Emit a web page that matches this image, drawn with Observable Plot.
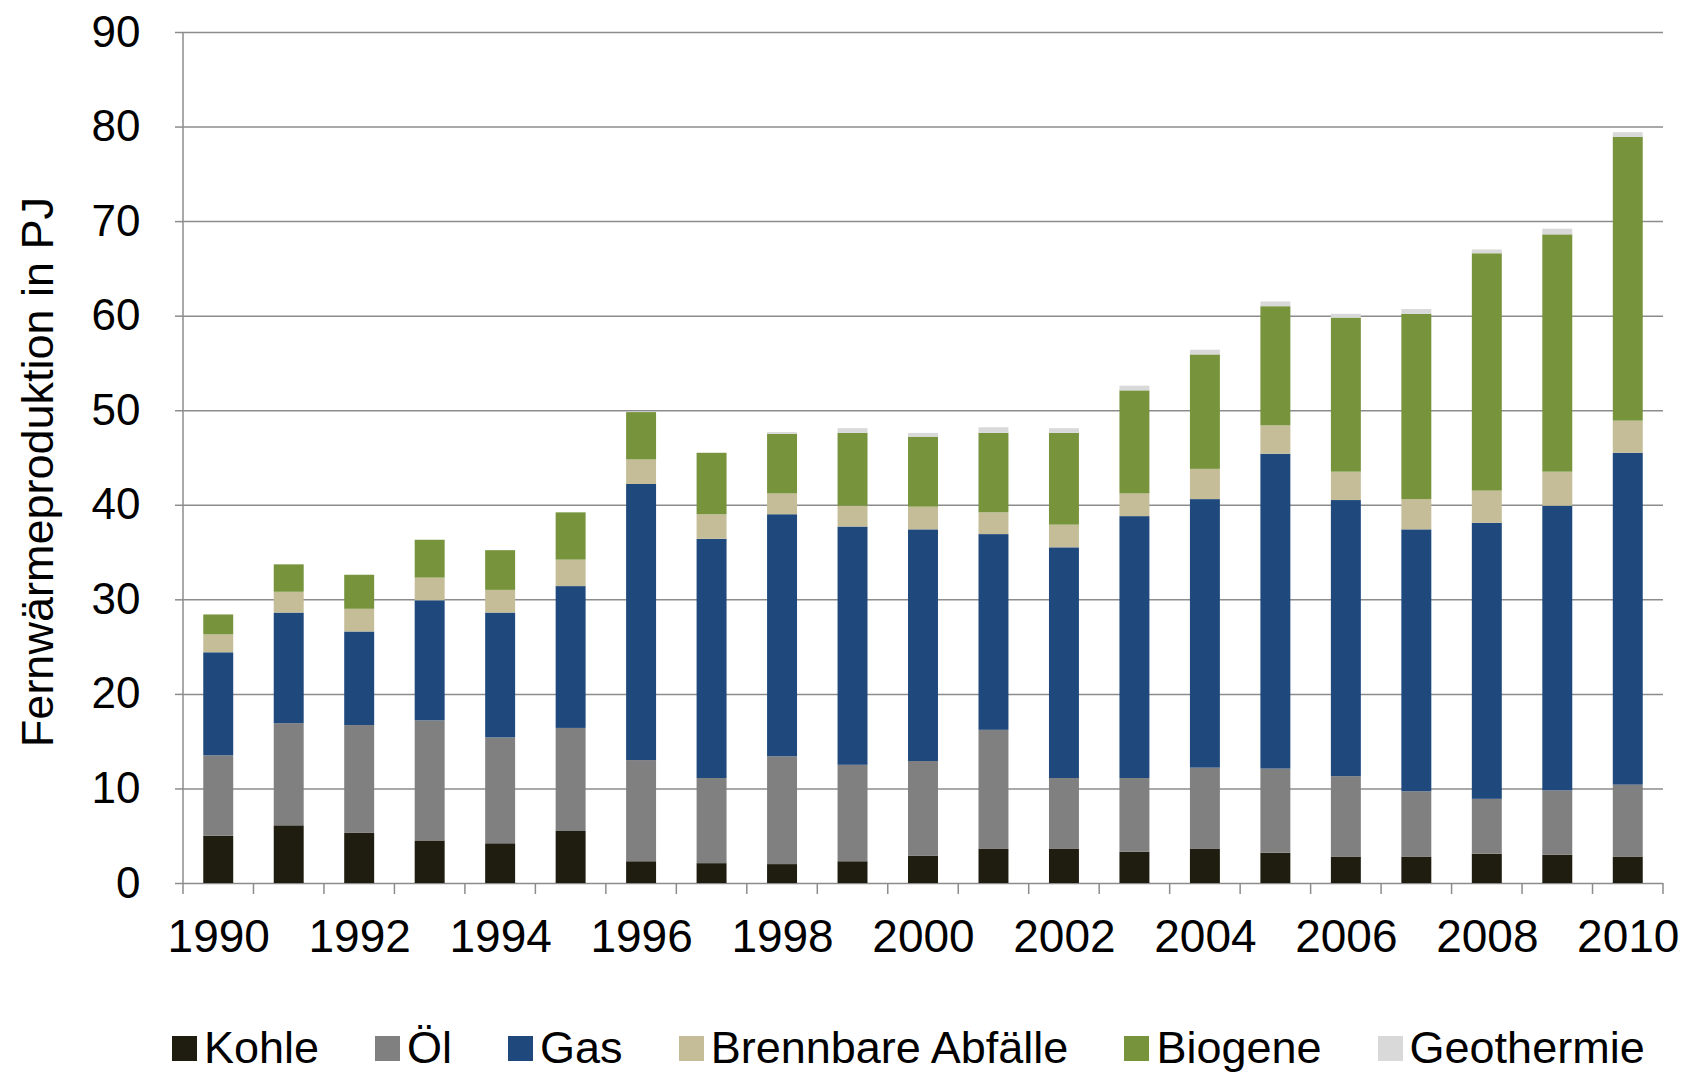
<!DOCTYPE html>
<html>
<head>
<meta charset="utf-8">
<script src="https://cdn.jsdelivr.net/npm/d3@7"></script>
<script src="https://cdn.jsdelivr.net/npm/@observablehq/plot@0.6"></script>
<style>
  html, body { margin: 0; padding: 0; background: #fff; }
  #wrap { position: relative; width: 1684px; height: 1074px; font-family: "Liberation Sans", Arial, sans-serif; }
  #legend { position: absolute; left: 172px; top: 1022px; display: flex; align-items: center; font-size: 45px; color: #000; white-space: nowrap; }
  .item { display: flex; align-items: center; margin-right: 56px; }
  .item:last-child { margin-right: 0; }
  .sw { width: 25px; height: 25px; margin-right: 7px; }
</style>
</head>
<body>
<div id="wrap"><div id="chart"></div><div id="legend"></div></div>
<script>
const years = [1990, 1991, 1992, 1993, 1994, 1995, 1996, 1997, 1998, 1999, 2000, 2001, 2002, 2003, 2004, 2005, 2006, 2007, 2008, 2009, 2010];
const xTickLabels = [1990, 1992, 1994, 1996, 1998, 2000, 2002, 2004, 2006, 2008, 2010];
const yTicks = [0, 10, 20, 30, 40, 50, 60, 70, 80, 90];
const sources = ["Kohle", "Öl", "Gas", "Brennbare Abfälle", "Biogene", "Geothermie"];
const colors = ["#1f1c10", "#808080", "#1f497d", "#c4bd97", "#77933c", "#d9d9d9"];

const kohle      = [5.0, 6.1, 5.3, 4.5, 4.2, 5.5, 2.3, 2.1, 2.0, 2.3, 2.9, 3.6, 3.6, 3.3, 3.6, 3.2, 2.8, 2.8, 3.1, 3.0, 2.8];
const oel        = [8.5, 10.8, 11.4, 12.7, 11.2, 10.9, 10.7, 9.0, 11.4, 10.2, 10.0, 12.6, 7.5, 7.8, 8.6, 8.9, 8.5, 6.9, 5.8, 6.8, 7.6];
const gas        = [10.9, 11.7, 9.9, 12.7, 13.2, 15.0, 29.2, 25.3, 25.6, 25.2, 24.5, 20.7, 24.4, 27.7, 28.4, 33.3, 29.2, 27.7, 29.2, 30.1, 35.1];
const abfaelle   = [1.9, 2.2, 2.4, 2.4, 2.4, 2.8, 2.6, 2.6, 2.2, 2.2, 2.4, 2.3, 2.4, 2.4, 3.2, 3.0, 3.0, 3.2, 3.4, 3.6, 3.4];
const biogene    = [2.1, 2.9, 3.6, 4.0, 4.2, 5.0, 5.0, 6.5, 6.3, 7.7, 7.4, 8.4, 9.7, 10.9, 12.1, 12.6, 16.3, 19.6, 25.1, 25.1, 30.0];
const geothermie = [0, 0, 0, 0, 0, 0, 0, 0, 0.2, 0.5, 0.4, 0.6, 0.5, 0.5, 0.5, 0.5, 0.4, 0.5, 0.4, 0.6, 0.5];

const seriesValues = [kohle, oel, gas, abfaelle, biogene, geothermie];
const table = [];
sources.forEach((s, si) => years.forEach((yr, i) => table.push({year: yr, source: s, value: seriesValues[si][i]})));

const gridColor = "#8c8c8c";
const yTitle = "Fernwärmeproduktion in PJ";

// boundary ticks + axis line, placed through the x band scale
function categoryTicks(index, scales, values, dimensions) {
  const x = scales.x;
  const step = x.step ? x.step() : (dimensions.width - dimensions.marginLeft - dimensions.marginRight) / years.length;
  const bw = x.bandwidth ? x.bandwidth() : 0;
  const y0 = dimensions.height - dimensions.marginBottom;
  const g = d3.create("svg:g").attr("stroke", gridColor).attr("stroke-width", 1.5);
  const bounds = years.map(yr => x(yr) - (step - bw) / 2);
  bounds.push(x(years[years.length - 1]) + bw + (step - bw) / 2);
  bounds.forEach(bx => g.append("line").attr("x1", bx).attr("x2", bx).attr("y1", y0).attr("y2", y0 + 11));
  g.append("line").attr("x1", dimensions.marginLeft).attr("x2", dimensions.marginLeft)
    .attr("y1", dimensions.marginTop).attr("y2", y0);
  return g.node();
}

const chart = Plot.plot({
  width: 1684,
  height: 975,
  marginLeft: 183,
  marginRight: 21,
  marginTop: 32,
  marginBottom: 92,
  style: {fontFamily: "'Liberation Sans', Arial, sans-serif", fontSize: "44px", color: "#000", background: "#fff"},
  x: {type: "band", domain: years, paddingInner: 0.575, paddingOuter: 0.2875, round: false, label: null},
  y: {domain: [0, 90], label: null},
  color: {domain: sources, range: colors},
  marks: [
    Plot.gridY(yTicks, {stroke: gridColor, strokeOpacity: 1, strokeWidth: 1.5}),
    Plot.barY(table, {x: "year", y: "value", fill: "source", order: sources}),
    Plot.axisY(yTicks, {tickSize: 8, tickPadding: 35, stroke: gridColor, strokeWidth: 1.5, fill: "#000", label: null, fontSize: 44}),
    Plot.axisX(xTickLabels, {tickSize: 0, tickPadding: 36, fill: "#000", label: null, fontSize: 46, tickFormat: d => String(d)}),
    categoryTicks,
    Plot.text([yTitle], {frameAnchor: "left", textAnchor: "middle", rotate: -90, dx: -145, dy: 14, fontSize: 45, fill: "#000", text: d => d})
  ]
});
document.getElementById("chart").appendChild(chart);

const legend = document.getElementById("legend");
sources.forEach((s, i) => {
  const item = document.createElement("div");
  item.className = "item";
  const sw = document.createElement("span");
  sw.className = "sw";
  sw.style.background = colors[i];
  const label = document.createElement("span");
  label.textContent = s;
  item.appendChild(sw);
  item.appendChild(label);
  legend.appendChild(item);
});
</script>
</body>
</html>
